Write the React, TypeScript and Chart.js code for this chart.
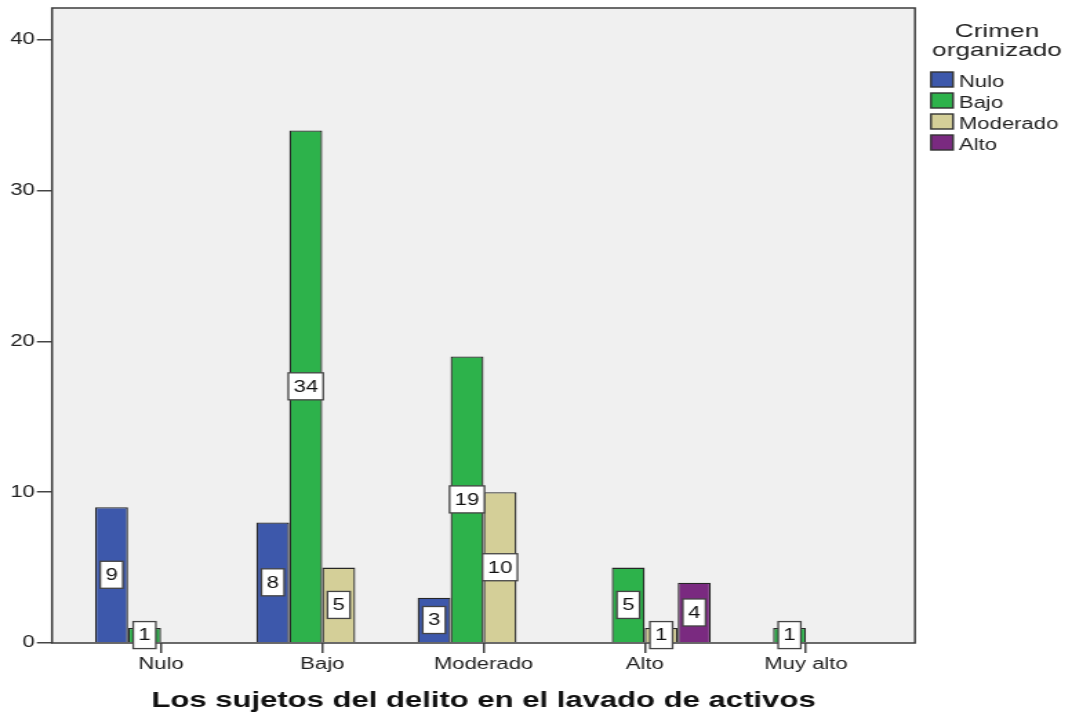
import React, { useEffect, useRef } from 'react';
import { Chart, registerables } from 'chart.js';

Chart.register(...registerables);

const FAMILY = '"Liberation Sans", Arial, Helvetica, sans-serif';

// The reference is an SPSS chart stretched horizontally: the chart is drawn on a
// narrower logical canvas and shown stretched to the full 1072px width.
const OUT_W = 1072;
const OUT_H = 716;
const LOGICAL_W = 777;

const categories = ['Nulo', 'Bajo', 'Moderado', 'Alto', 'Muy alto'];
const seriesNames = ['Nulo', 'Bajo', 'Moderado', 'Alto'];
const nuloValues = [9, 8, 3, 0, 0];
const bajoValues = [1, 34, 19, 5, 1];
const moderadoValues = [0, 5, 10, 1, 0];
const altoValues = [0, 0, 0, 4, 0];
const seriesValues = [nuloValues, bajoValues, moderadoValues, altoValues];
const seriesColors = ['#3D58AB', '#2DB24B', '#D4CF98', '#7A2A80'];
const yTicks = [0, 10, 20, 30, 40];
const xTitle = 'Los sujetos del delito en el lavado de activos';
const legendTitle = ['Crimen', 'organizado'];

const spssPlugin = {
  id: 'spssLook',
  beforeDraw(chart: any) {
    const { ctx, chartArea: a } = chart;
    ctx.save();
    ctx.fillStyle = '#F0F0F0';
    ctx.fillRect(a.left, a.top, a.right - a.left, a.bottom - a.top);
    ctx.restore();
  },
  afterDatasetsDraw(chart: any) {
    const { ctx, chartArea: a } = chart;
    ctx.save();
    ctx.strokeStyle = '#3c3c3c';
    ctx.lineWidth = 1.5;
    ctx.strokeRect(a.left, a.top, a.right - a.left, a.bottom - a.top);

    ctx.font = `16px ${FAMILY}`;
    ctx.textAlign = 'center';
    ctx.textBaseline = 'middle';
    chart.data.datasets.forEach((ds: any, di: number) => {
      const meta = chart.getDatasetMeta(di);
      meta.data.forEach((bar: any, j: number) => {
        const raw = ds.data[j] ? ds.data[j].y : null;
        if (raw == null) return;
        const text = String(raw);
        const w = ctx.measureText(text).width;
        const bw = w + 7.5;
        const bh = 27;
        const cx = bar.x;
        const cy = (bar.y + bar.base) / 2;
        ctx.fillStyle = '#FFFFFF';
        ctx.fillRect(cx - bw / 2, cy - bh / 2, bw, bh);
        ctx.strokeStyle = '#444';
        ctx.lineWidth = 1.3;
        ctx.strokeRect(cx - bw / 2, cy - bh / 2, bw, bh);
        ctx.fillStyle = '#111';
        ctx.fillText(text, cx, cy + 1);
      });
    });
    ctx.restore();
  },
  afterDraw(chart: any) {
    const { ctx, chartArea: a } = chart;
    ctx.save();
    // legend title
    ctx.fillStyle = '#222';
    ctx.font = `19px ${FAMILY}`;
    ctx.textAlign = 'center';
    ctx.textBaseline = 'alphabetic';
    const tx = a.right + 59.4;
    legendTitle.forEach((line, i) => ctx.fillText(line, tx, 37 + i * 19));
    // legend items
    ctx.font = `16px ${FAMILY}`;
    ctx.textAlign = 'left';
    chart.data.datasets.forEach((ds: any, i: number) => {
      const bx = a.right + 11.6;
      const by = 72 + i * 21;
      ctx.fillStyle = ds.backgroundColor;
      ctx.fillRect(bx, by, 16, 15);
      ctx.strokeStyle = '#333';
      ctx.lineWidth = 1.4;
      ctx.strokeRect(bx, by, 16, 15);
      ctx.fillStyle = '#222';
      ctx.fillText(ds.label, a.right + 31.8, by + 15);
    });
    // x axis title
    ctx.font = `bold 22.5px ${FAMILY}`;
    ctx.textAlign = 'center';
    ctx.fillStyle = '#111';
    ctx.fillText(xTitle, (a.left + a.right) / 2, 707);
    ctx.restore();
  },
};

export default function App() {
  const ref = useRef<HTMLCanvasElement | null>(null);

  useEffect(() => {
    if (!ref.current) return;
    Chart.defaults.font.family = FAMILY;
    const chart = new Chart(ref.current, {
      type: 'bar',
      data: {
        datasets: seriesNames.map((name, si) => ({
          label: name,
          data: seriesValues[si].map((v, i) => ({ x: i, y: v === 0 ? null : v })),
          backgroundColor: seriesColors[si],
          borderColor: '#262626',
          borderWidth: 1.3,
          categoryPercentage: 0.818,
          barPercentage: 1,
        })) as any,
      },
      options: {
        animation: false,
        responsive: false,
        events: [],
        layout: { padding: { top: 8, right: LOGICAL_W - 663.2, left: 0, bottom: 0 } },
        plugins: {
          legend: { display: false },
          tooltip: { enabled: false },
        },
        scales: {
          x: {
            type: 'linear',
            min: -0.676,
            max: 4.676,
            offset: false,
            grid: {
              display: true,
              offset: false,
              drawOnChartArea: false,
              drawTicks: true,
              tickLength: 10,
              color: '#444',
              lineWidth: 1.5,
            },
            border: { display: false },
            ticks: {
              callback: (v: any) => categories[v as number] ?? '',
              font: { size: 16, family: FAMILY },
              color: '#222',
              padding: 2,
              maxRotation: 0,
              autoSkip: false,
            },
            afterBuildTicks: (s: any) => {
              s.ticks = categories.map((_, i) => ({ value: i }));
            },
            afterFit: (s: any) => {
              s.height = 73;
              s.paddingLeft = 0;
              s.paddingRight = 0;
            },
          } as any,
          y: {
            type: 'linear',
            min: 0,
            max: 42.12,
            grid: {
              display: true,
              drawOnChartArea: false,
              drawTicks: true,
              tickLength: 11,
              color: '#444',
              lineWidth: 1.5,
            },
            border: { display: false },
            ticks: {
              font: { size: 16, family: FAMILY },
              color: '#222',
              padding: 1.5,
            },
            afterBuildTicks: (s: any) => {
              s.ticks = yTicks.map((v) => ({ value: v }));
            },
            afterFit: (s: any) => {
              s.width = 37.7;
              s.paddingTop = 0;
              s.paddingBottom = 0;
            },
          } as any,
        },
      },
      plugins: [spssPlugin as any],
    });
    return () => chart.destroy();
  }, []);

  return (
    <div style={{ position: 'absolute', left: 0, top: 0, width: OUT_W, height: OUT_H, background: '#FFFFFF' }}>
      <canvas
        ref={ref}
        width={LOGICAL_W}
        height={OUT_H}
        style={{ display: 'block', width: OUT_W, height: OUT_H }}
      />
    </div>
  );
}
